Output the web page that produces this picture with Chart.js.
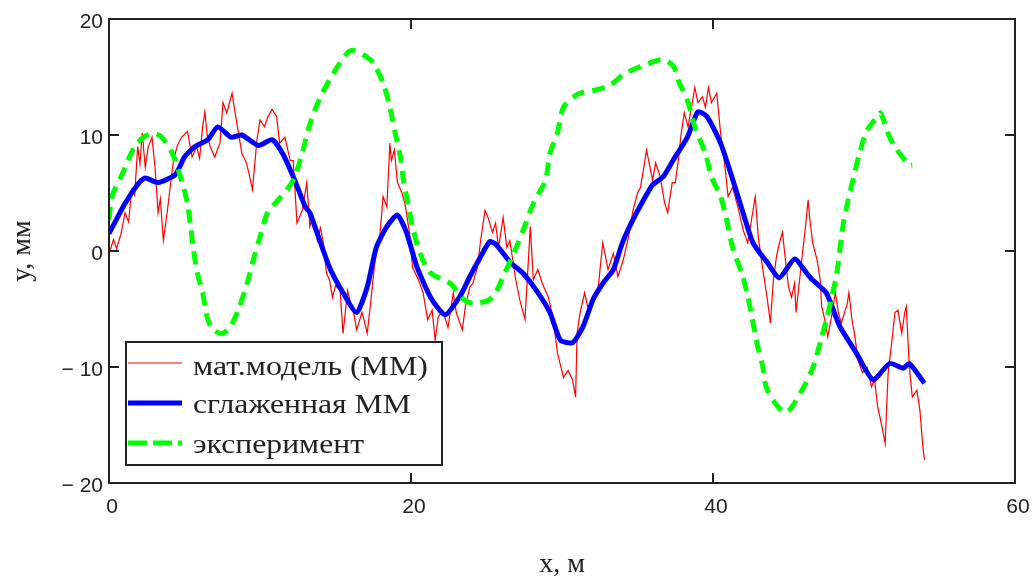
<!DOCTYPE html>
<html>
<head>
<meta charset="utf-8">
<style>
    html, body { margin: 0; padding: 0; background: #fff; }
</style>
<script src="https://cdn.jsdelivr.net/npm/chart.js@4/dist/chart.umd.min.js"></script>
</head>
<body>
<canvas id="grafico" width="1033" height="581"></canvas>
<script>
// ejes
var xTicks = [0, 20, 40, 60];
var yTicks = [-20, -10, 0, 10, 20];
var nombres = ['мат.модель (ММ)', 'сглаженная ММ', 'эксперимент'];

// мат. модель (ruido)
var redX = [0.0, 0.3, 0.5, 0.8, 1.06, 1.3, 1.5, 1.7, 1.9, 2.05, 2.2, 2.4, 2.6, 2.85, 3.05, 3.25, 3.4, 3.6, 3.85, 4.05,
    4.25, 4.5, 4.8, 5.2, 5.5, 5.8, 6.0, 6.2, 6.35, 6.5, 6.7, 7.0, 7.35, 7.55, 7.8, 8.15, 8.35, 8.55, 8.8, 9.1,
    9.3, 9.5, 9.8, 10.0, 10.3, 10.5, 10.8, 11.1, 11.3, 11.65, 12.0, 12.2, 12.45, 12.8, 13.1, 13.3, 13.5, 13.8, 14.0, 14.2,
    14.4, 14.6, 14.8, 15.0, 15.3, 15.5, 15.8, 16.0, 16.2, 16.4, 16.75, 16.9, 17.1, 17.3, 17.6, 17.95, 18.15, 18.4, 18.6, 18.7,
    18.9, 19.1, 19.4, 19.6, 19.9, 20.1, 20.5, 20.8, 21.1, 21.4, 21.6, 21.8, 22.1, 22.45, 22.8, 23.0, 23.4, 23.6, 23.9, 24.1,
    24.4, 24.6, 24.9, 25.1, 25.4, 25.6, 25.8, 26.1, 26.35, 26.55, 26.9, 27.2, 27.55, 27.9, 28.1, 28.4, 28.7, 29.1, 29.4, 29.7,
    30.1, 30.4, 30.7, 30.9, 31.0, 31.2, 31.5, 31.7, 32.05, 32.4, 32.7, 33.05, 33.4, 33.7, 34.05, 34.4, 34.7, 35.0, 35.2, 35.6,
    36.0, 36.2, 36.5, 36.8, 37.0, 37.3, 37.5, 37.7, 37.9, 38.1, 38.35, 38.8, 39.0, 39.3, 39.5, 39.7, 39.9, 40.25, 40.5, 40.8,
    41.0, 41.3, 41.7, 42.0, 42.3, 42.8, 43.0, 43.3, 43.6, 43.8, 44.0, 44.2, 44.4, 44.6, 44.8, 45.0, 45.2, 45.4, 45.5, 45.9,
    46.1, 46.3, 46.4, 46.6, 46.9, 47.1, 47.2, 47.4, 47.6, 47.9, 48.1, 48.3, 48.5, 48.9, 49.0, 49.2, 49.4, 49.6, 49.9, 50.2,
    50.5, 50.7, 50.9, 51.2, 51.4, 51.6, 51.85, 52.05, 52.25, 52.5, 52.7, 52.8, 53.0, 53.2, 53.5, 53.7, 53.9, 54.0];
var redY = [-0.3, 1.0, 0.2, 1.5, 3.3, 2.5, 5.3, 4.8, 9.0, 7.5, 10.2, 7.2, 9.0, 9.8, 7.2, 3.3, 4.5, 0.9, 3.3, 5.5,
    7.6, 9.0, 9.8, 10.3, 8.1, 9.0, 8.0, 10.7, 12.0, 10.0, 9.0, 8.1, 9.3, 12.8, 11.9, 13.6, 11.9, 10.4, 8.4, 7.6,
    6.5, 5.3, 9.6, 11.3, 10.7, 11.5, 12.2, 11.6, 9.3, 9.8, 7.8, 7.8, 2.4, 3.5, 5.9, 2.1, 3.0, 0.9, 2.0, 0.7,
    -1.9, -2.5, -4.0, -3.0, -3.4, -7.1, -3.4, -4.5, -5.3, -6.8, -5.3, -6.0, -7.1, -4.8, -1.0, 1.5, 4.7, 3.8, 9.3, 7.8,
    8.7, 5.9, 5.0, 4.1, 1.6, -1.4, -2.5, -3.6, -5.9, -5.1, -7.7, -5.7, -5.1, -6.6, -3.6, -5.3, -6.8, -4.8, -3.1, -2.8,
    -1.4, 0.8, 3.5, 2.9, 1.6, 2.4, 0.3, 2.9, 0.3, 0.9, -2.2, -4.2, -5.9, 2.1, -2.5, -1.6, -2.8, -4.0, -5.7, -8.8,
    -10.9, -10.3, -11.1, -12.6, -7.1, -5.3, -3.6, -4.8, -4.5, -3.1, 0.7, -1.6, -0.2, -2.2, -0.8, 1.2, 3.5, 5.0, 5.5, 8.7,
    6.1, 7.6, 6.4, 4.1, 3.3, 5.9, 5.9, 7.8, 10.2, 11.9, 10.7, 14.1, 12.8, 13.3, 12.4, 14.1, 12.8, 13.6, 10.2, 7.2,
    4.7, 5.5, 3.5, 1.8, 0.7, 4.7, 1.2, -1.6, -4.2, -6.2, -2.5, -0.5, 0.7, 1.6, -0.8, -3.1, -4.0, -2.8, -5.3, -0.5,
    1.8, 4.4, 2.9, 0.7, -0.8, -2.5, -4.8, -5.9, -7.4, -5.3, -3.6, -5.3, -6.2, -4.5, -3.6, -5.9, -7.4, -9.4, -10.5, -10.0,
    -11.7, -11.1, -13.4, -15.2, -16.6, -10.5, -7.7, -5.3, -5.1, -7.1, -5.3, -4.8, -10.0, -12.6, -12.0, -13.7, -16.9, -18.0];

// сглаженная ММ
var blueX = [0, 1.06, 2.0, 2.4, 3.25, 4.4, 5.0, 5.7, 6.55, 7.2, 8.1, 8.8, 9.9, 10.8, 11.5, 12.3, 13.0, 13.3, 14.6, 15.5,
    16.4, 17.1, 17.7, 18.4, 19.1, 19.7, 20.4, 21.3, 22.25, 23.2, 23.9, 24.4, 25.2, 25.6, 26.6, 27.4, 28.3, 29.2, 29.9, 30.7,
    31.4, 32.05, 32.7, 33.4, 34.0, 34.7, 35.4, 36.0, 36.7, 37.35, 38.3, 39.0, 39.6, 40.5, 41.1, 41.8, 42.65, 43.6, 44.4, 45.4,
    46.2, 46.6, 47.5, 48.4, 49.5, 50.6, 51.7, 52.6, 53.0, 54.0];
var blueY = [1.5, 4.1, 5.9, 6.3, 5.9, 6.6, 8.1, 9.0, 9.6, 10.7, 9.8, 10.0, 9.1, 9.6, 8.4, 6.1, 3.8, 3.3, -1.4, -3.6,
    -5.3, -3.1, 0.3, 2.1, 3.1, 1.6, -1.4, -4.0, -5.5, -4.0, -2.2, -1.0, 0.8, 0.6, -1.0, -1.9, -3.4, -5.3, -7.7, -7.9,
    -6.5, -4.2, -2.8, -1.6, 0.7, 2.7, 4.4, 5.7, 6.4, 7.8, 9.8, 12.0, 11.6, 9.3, 7.0, 4.1, 0.7, -1.0, -2.3, -0.7,
    -1.9, -2.5, -3.6, -6.5, -8.8, -11.1, -9.7, -10.1, -9.7, -11.4];

// эксперимент
var greenX = [0, 0.2, 0.9, 1.7, 2.4, 3.05, 3.5, 4.2, 4.8, 5.2, 5.4, 5.6, 5.85, 6.2, 6.5, 6.9, 7.5, 8.0, 8.55, 9.15,
    9.55, 10.0, 10.5, 11.2, 11.8, 12.3, 12.85, 13.25, 13.9, 14.85, 15.8, 16.2, 17.1, 17.5, 18.15, 18.6, 18.95, 19.3, 19.5, 19.8,
    20.1, 20.6, 21.3, 22.6, 23.6, 24.4, 25.4, 26.1, 26.9, 27.55, 28.1, 28.9, 29.2, 29.7, 30.1, 30.9, 31.4, 32.3, 33.2, 34.05,
    35.0, 35.8, 36.7, 37.4, 37.7, 38.3, 38.8, 39.5, 39.9, 40.5, 40.9, 41.3, 41.9, 42.25, 42.6, 42.9, 43.3, 43.6, 44.8, 45.8,
    46.6, 47.1, 47.55, 47.9, 48.2, 48.6, 48.9, 49.3, 49.7, 50.2, 50.9, 51.1, 51.7, 52.2, 53.0, 53.2];
var greenY = [2.7, 4.7, 6.7, 9.0, 9.9, 10.1, 9.8, 8.4, 6.1, 4.1, 2.1, 0.1, -1.9, -3.6, -5.7, -6.8, -7.1, -6.6, -5.1, -2.8,
    -0.8, 1.2, 3.3, 4.4, 5.3, 6.4, 8.7, 10.7, 13.0, 15.3, 17.1, 17.3, 16.7, 16.2, 14.5, 12.4, 10.2, 8.1, 6.1, 4.1,
    2.1, -0.2, -1.9, -2.8, -4.3, -4.5, -4.0, -2.2, 0.1, 2.2, 4.1, 6.1, 8.4, 10.2, 12.4, 13.4, 13.7, 13.9, 14.3, 15.2,
    15.8, 16.2, 16.5, 15.9, 14.7, 13.0, 10.7, 8.4, 6.4, 4.7, 2.7, 0.3, -1.9, -3.6, -5.8, -7.9, -10.0, -12.0, -13.9, -12.2,
    -10.1, -7.9, -5.7, -3.8, -1.9, 2.1, 4.1, 6.3, 8.4, 10.4, 11.6, 11.9, 9.8, 8.7, 7.4, 7.4];

var colores = ['#ff0000', '#0000ff', '#00ff00'];
var guiones = [13, 8];

function pares(xs, ys) {
    var out = [];
    for (var i = 0; i < xs.length; i++) {
        out.push({x: xs[i], y: ys[i]});
    }
    return out;
}

function menos(v) {
    return v < 0 ? '\u2212 ' + Math.abs(v) : String(v);
}

var marco = {
    id: 'marco',
    afterDatasetsDraw: function (chart) {
        var ctx = chart.ctx;
        var a = chart.chartArea;
        var sx = chart.scales.x;
        var sy = chart.scales.y;
        ctx.save();
        ctx.strokeStyle = '#222';
        ctx.lineWidth = 2;
        ctx.strokeRect(a.left, a.top, a.right - a.left, a.bottom - a.top);
        ctx.beginPath();
        xTicks.slice(1, -1).forEach(function (v) {
            var p = Math.round(sx.getPixelForValue(v));
            ctx.moveTo(p, a.bottom); ctx.lineTo(p, a.bottom - 10);
            ctx.moveTo(p, a.top); ctx.lineTo(p, a.top + 10);
        });
        yTicks.slice(1, -1).forEach(function (v) {
            var p = Math.round(sy.getPixelForValue(v));
            ctx.moveTo(a.left, p); ctx.lineTo(a.left + 10, p);
            ctx.moveTo(a.right, p); ctx.lineTo(a.right - 10, p);
        });
        ctx.stroke();

        // leyenda
        var lx = a.left + 17, ly = a.top + 323, lw = 316, lh = 123;
        ctx.fillStyle = '#fff';
        ctx.fillRect(lx, ly, lw, lh);
        ctx.strokeRect(lx, ly, lw, lh);
        var filas = [
            {y: ly + 21, base: ly + 33, w: 1.2, dash: []},
            {y: ly + 61, base: ly + 71, w: 5, dash: []},
            {y: ly + 101, base: ly + 111, w: 5, dash: [19, 6]}
        ];
        var anchos = [235, 218, 171];
        for (var i = 0; i < filas.length; i++) {
            var f = filas[i];
            ctx.beginPath();
            ctx.setLineDash(f.dash);
            ctx.strokeStyle = colores[i];
            ctx.lineWidth = f.w;
            ctx.moveTo(lx + 2, f.y);
            ctx.lineTo(lx + 56, f.y);
            ctx.stroke();
            ctx.setLineDash([]);
            ctx.font = '28px "Liberation Serif"';
            ctx.fillStyle = '#222';
            ctx.textBaseline = 'alphabetic';
            var w = ctx.measureText(nombres[i]).width;
            ctx.save();
            ctx.translate(lx + 67, f.base);
            ctx.scale(anchos[i] / w, 1);
            ctx.fillText(nombres[i], 0, 0);
            ctx.restore();
        }
        ctx.restore();
    }
};

new Chart(document.getElementById('grafico'), {
    type: 'line',
    data: {
        datasets: [
            {
                label: nombres[0],
                data: pares(redX, redY),
                borderColor: colores[0],
                borderWidth: 1.2,
                pointRadius: 0,
                order: 3
            },
            {
                label: nombres[1],
                data: pares(blueX, blueY),
                borderColor: colores[1],
                borderWidth: 5,
                pointRadius: 0,
                tension: 0.2,
                order: 2
            },
            {
                label: nombres[2],
                data: pares(greenX, greenY),
                borderColor: colores[2],
                borderWidth: 5,
                borderDash: guiones,
                pointRadius: 0,
                tension: 0.3,
                order: 1
            }
        ]
    },
    options: {
        responsive: false,
        animation: false,
        layout: {
            padding: {top: 19, right: 18, left: 0, bottom: 0}
        },
        plugins: {
            legend: {display: false},
            tooltip: {enabled: false}
        },
        scales: {
            x: {
                type: 'linear',
                min: 0,
                max: 60,
                border: {display: false},
                grid: {display: false, drawTicks: false},
                afterBuildTicks: function (scale) {
                    scale.ticks = xTicks.map(function (v) { return {value: v}; });
                },
                afterFit: function (scale) {
                    scale.height = 98;
                    scale.paddingLeft = 0;
                    scale.paddingRight = 0;
                },
                ticks: {
                    autoSkip: false,
                    maxRotation: 0,
                    padding: 12,
                    labelOffset: 3,
                    color: '#222',
                    font: {family: '"Liberation Sans"', size: 21}
                },
                title: {
                    display: true,
                    text: 'x, м',
                    color: '#222',
                    font: {family: '"Liberation Serif"', size: 28},
                    padding: {top: 0, bottom: 0}
                }
            },
            y: {
                min: -20,
                max: 20,
                border: {display: false},
                grid: {display: false, drawTicks: false},
                afterBuildTicks: function (scale) {
                    scale.ticks = yTicks.map(function (v) { return {value: v}; });
                },
                afterFit: function (scale) {
                    scale.width = 109;
                    scale.paddingTop = 0;
                    scale.paddingBottom = 0;
                },
                ticks: {
                    autoSkip: false,
                    padding: 6,
                    labelOffset: 3,
                    color: '#222',
                    font: {family: '"Liberation Sans"', size: 21},
                    callback: function (v) { return menos(v); }
                },
                title: {
                    display: true,
                    text: 'y, мм',
                    color: '#222',
                    font: {family: '"Liberation Serif"', size: 28},
                    padding: {top: 6, bottom: 0}
                }
            }
        }
    },
    plugins: [marco]
});
</script>
</body>
</html>
